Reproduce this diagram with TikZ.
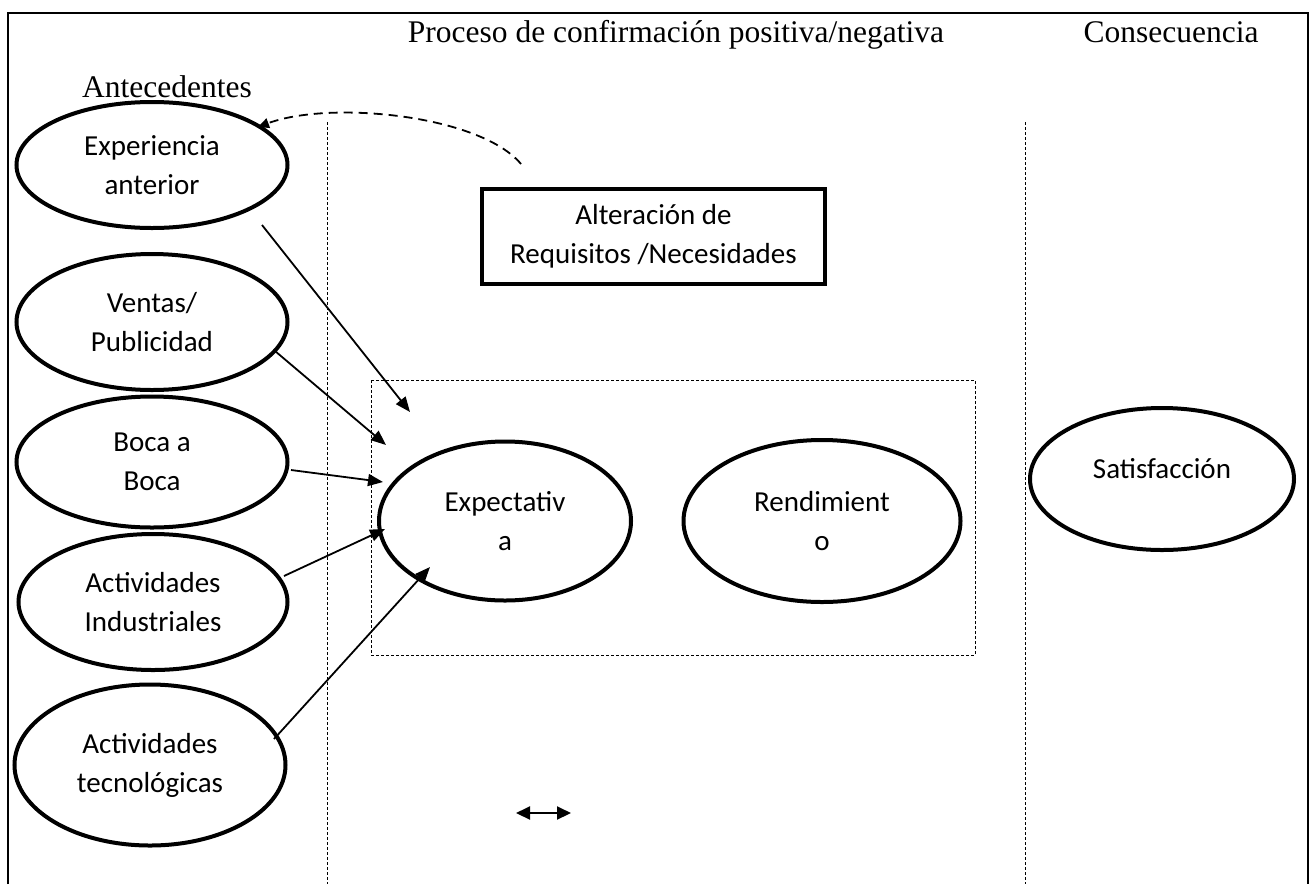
\documentclass[tikz,border=0pt]{standalone}
\usepackage{fontspec}
\setmainfont{Liberation Serif}
\newfontfamily\calibri{Carlito}
\usetikzlibrary{arrows.meta,shapes.geometric}
\begin{document}
\begin{tikzpicture}[x=1pt,y=-1pt,
  oval/.style={ellipse,draw,line width=4pt,inner sep=0pt,align=center,
    font=\calibri\fontsize{29}{39}\selectfont},
  boxnode/.style={rectangle,draw,line width=4pt,inner sep=0pt,align=center,
    font=\calibri\fontsize{29}{39}\selectfont},
  head/.style={anchor=base,font=\fontsize{31.5}{38}\selectfont},
  conn/.style={line width=1.8pt,-{Triangle[length=15pt,width=12pt]}},
  sep/.style={line width=1pt,dash pattern=on 3pt off 2pt},
  frame/.style={line width=2pt}
]
\useasboundingbox (0,0) rectangle (1311,884);
% frame
\coordinate (f1) at (8,884);
\coordinate (f2) at (8,13);
\coordinate (f3) at (1308,13);
\coordinate (f4) at (1308,884);
\draw[frame] (f1) -- (f2) -- (f3) -- (f4);
% headings
\node[head] (proc) at (676,42) {Proceso de confirmación positiva/negativa};
\node[head] (cons) at (1171,42) {Consecuencia};
\node[head] (ante) at (167,97) {Antecedentes};
% separators
\coordinate (s1a) at (327,122);
\coordinate (s1b) at (327,884);
\coordinate (s2a) at (1025,122);
\coordinate (s2b) at (1025,884);
\draw[sep] (s1a) -- (s1b);
\draw[sep] (s2a) -- (s2b);
% dashed group box
\coordinate (g1) at (371,380);
\coordinate (g2) at (975,655);
\draw[sep] (g1) rectangle (g2);
% antecedent ellipses
\node[oval,minimum width=271pt,minimum height=126pt] (exp) at (152,165) {Experiencia\\anterior};
\node[oval,minimum width=271pt,minimum height=136pt] (ven) at (152,322) {Ventas/\\Publicidad};
\node[oval,minimum width=271pt,minimum height=131pt] (boc) at (152,462) {Boca a\\Boca};
\node[oval,minimum width=269pt,minimum height=136pt] (ind) at (153,602) {Actividades\\Industriales};
\node[oval,minimum width=271pt,minimum height=161pt] (tec) at (150,765) {Actividades\\tecnológicas};
% central
\node[boxnode,minimum width=343pt,minimum height=95pt] (alt) at (653.5,236.5) {Alteración de\\Requisitos /Necesidades};
\node[oval,minimum width=252pt,minimum height=159pt] (expe) at (505,521) {Expectativ\\a};
\node[oval,minimum width=277pt,minimum height=162pt] (ren) at (822,521) {Rendimient\\o};
\node[oval,minimum width=264pt,minimum height=142pt,text height=20pt,text depth=22pt] (sat) at (1162,479) {Satisfacción};
% connectors
\coordinate (a1s) at (262,225); \coordinate (a1e) at (410,412);
\coordinate (a2s) at (275,351); \coordinate (a2e) at (386,445);
\coordinate (a3s) at (291,470); \coordinate (a3e) at (383,482);
\coordinate (a4s) at (284,576); \coordinate (a4e) at (385,529);
\coordinate (a5s) at (274,739); \coordinate (a5e) at (430,567);
\draw[conn] (a1s) -- (a1e);
\draw[conn] (a2s) -- (a2e);
\draw[conn] (a3s) -- (a3e);
\draw[conn] (a4s) -- (a4e);
\draw[conn] (a5s) -- (a5e);
% dashed feedback arc
\coordinate (fbs) at (521,164);
\coordinate (fbe) at (258,127);
\draw[line width=1.8pt,dash pattern=on 9pt off 6pt,-{Triangle[length=11pt,width=10pt]}]
  (fbs) .. controls (480,115) and (330,100) .. (fbe);
% double arrow
\coordinate (d1) at (516,813);
\coordinate (d2) at (571,813);
\draw[line width=2pt,{Triangle[length=14pt,width=13pt]}-{Triangle[length=14pt,width=13pt]}] (d1) -- (d2);
\end{tikzpicture}
\end{document}
